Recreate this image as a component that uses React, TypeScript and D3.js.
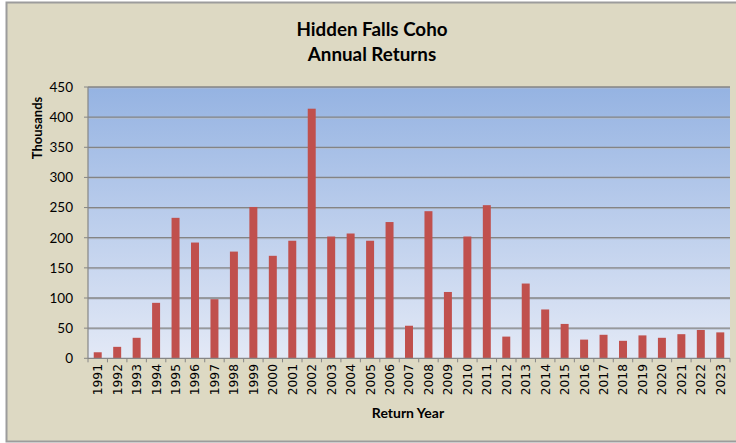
import React from "react";
import * as d3 from "d3";

const years = ["1991","1992","1993","1994","1995","1996","1997","1998","1999","2000","2001","2002","2003","2004","2005","2006","2007","2008","2009","2010","2011","2012","2013","2014","2015","2016","2017","2018","2019","2020","2021","2022","2023"];
const returns = [10,19,34,92,233,192,98,177,251,170,195,414,202,207,195,226,54,244,110,202,254,36,124,81,57,31,39,29,38,34,40,47,43];
const yTicks = [0,50,100,150,200,250,300,350,400,450];
const titleLines = ["Hidden Falls Coho", "Annual Returns"];

export default function App() {
  const W = 736, H = 443;
  const left = 88, right = 730, top = 87, bottom = 358.3;
  const x = d3.scaleBand<string>().domain(years).range([left, right]).paddingInner(0.59).paddingOuter(0.295);
  const xb = d3.scaleBand<string>().domain(years).range([left, right]);
  const y = d3.scaleLinear().domain([0, 450]).range([bottom, top]);
  const font = "Lato, 'Open Sans', sans-serif";
  return (
    <div style={{ position: "absolute", left: 0, top: 0 }}>
      <svg width={W} height={H} style={{ display: "block" }}>
        <defs>
          <linearGradient id="pg" x1="0" y1="0" x2="0" y2="1">
            <stop offset="0" stopColor="#95b3e2" />
            <stop offset="1" stopColor="#e3e9f6" />
          </linearGradient>
        </defs>
        <rect x={0} y={0} width={W} height={H} fill="#ffffff" />
        <rect x={6.5} y={2.5} width={740} height={439} fill="#ddd9c3" stroke="#9c9c9c" strokeWidth={2} />
        <rect x={left} y={top} width={right - left} height={bottom - top} fill="url(#pg)" />
        {yTicks.map((t) => (
          <g key={t}>
            {t > 0 && (
              <>
                <line x1={left} x2={right} y1={y(t) + 1} y2={y(t) + 1} stroke="#b4bccb" strokeWidth={1} />
                <line x1={left} x2={right} y1={y(t)} y2={y(t)} stroke="#848484" strokeWidth={1.3} />
              </>
            )}
            <line x1={left - 4} x2={left} y1={y(t)} y2={y(t)} stroke="#868686" strokeWidth={1} />
            <text x={73} y={y(t)} dy="0.36em" textAnchor="end" fontFamily={font} fontSize={13.5} fill="#000">
              {t}
            </text>
          </g>
        ))}
        {years.map((yr, i) => (
          <rect key={yr} x={x(yr)} y={y(returns[i])} width={x.bandwidth()} height={bottom - y(returns[i])} fill="#c0504d" />
        ))}
        <line x1={left} x2={left} y1={top} y2={bottom} stroke="#868686" strokeWidth={1.2} />
        <line x1={left} x2={right} y1={bottom} y2={bottom} stroke="#868686" strokeWidth={1.2} />
        {years.map((yr) => (
          <line key={"t" + yr} x1={xb(yr)} x2={xb(yr)} y1={bottom} y2={bottom + 4} stroke="#868686" strokeWidth={1} />
        ))}
        <line x1={right} x2={right} y1={bottom} y2={bottom + 4} stroke="#868686" strokeWidth={1} />
        {years.map((yr) => {
          const cx = (xb(yr) as number) + xb.bandwidth() / 2;
          return (
            <text key={"l" + yr} transform={`translate(${cx},${364}) rotate(-90)`} dy="0.36em" textAnchor="end" fontFamily="'DejaVu Sans', sans-serif" fontSize={12.3} fill="#000">
              {yr}
            </text>
          );
        })}
        {titleLines.map((s, i) => (
          <text key={s} x={372} y={36 + i * 25} textAnchor="middle" fontFamily={font} fontWeight="bold" fontSize={18.8} fill="#000">
            {s}
          </text>
        ))}
        <text transform={`translate(37,128) rotate(-90)`} dy="0.36em" textAnchor="middle" fontFamily={font} fontWeight="bold" fontSize={13} fill="#000">
          Thousands
        </text>
        <text x={408} y={418} textAnchor="middle" fontFamily={font} fontWeight="bold" fontSize={14} fill="#000">
          Return Year
        </text>
      </svg>
    </div>
  );
}
